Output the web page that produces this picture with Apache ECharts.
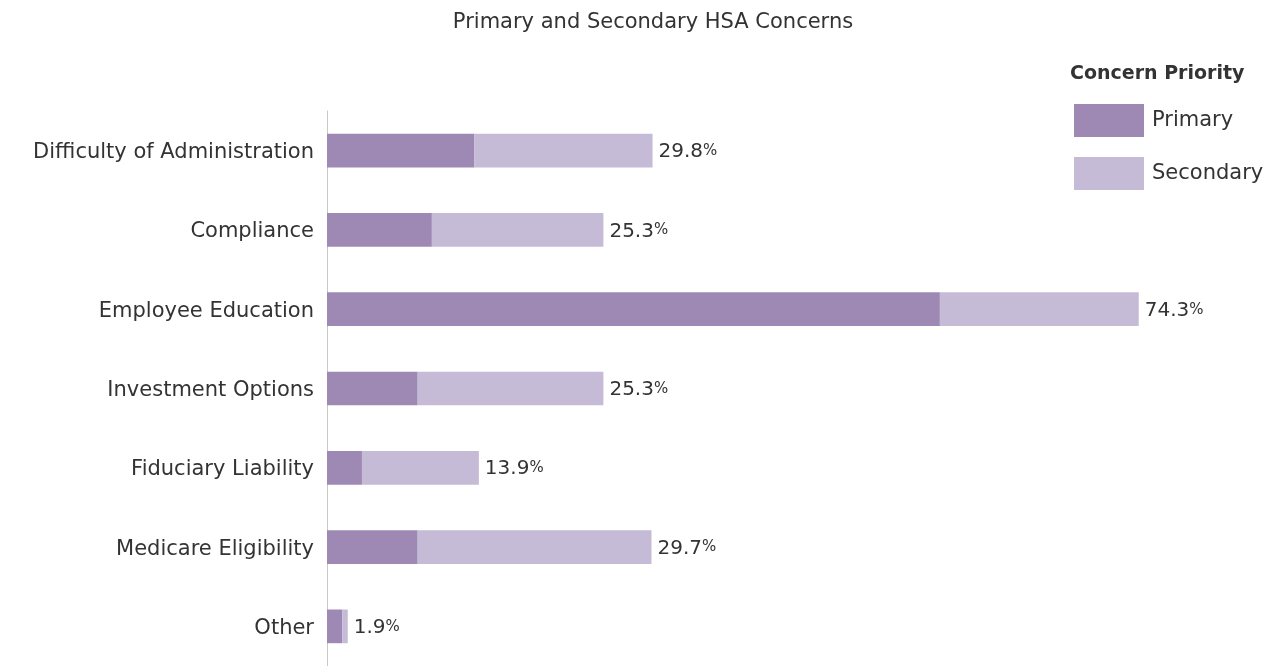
<!DOCTYPE html>
<html>
<head>
<meta charset="utf-8">
<script src="https://cdn.jsdelivr.net/npm/echarts@6/dist/echarts.min.js"></script>
<style>html,body{margin:0;padding:0;background:#fff}#c{width:1278px;height:666px}</style>
</head>
<body>
<div id="c"></div>
<script>
const categories = ["Difficulty of Administration","Compliance","Employee Education","Investment Options","Fiduciary Liability","Medicare Eligibility","Other"];
const primary = [13.5, 9.6, 56.1, 8.3, 3.2, 8.3, 1.4];
const secondary = [16.3, 15.7, 18.2, 17.0, 10.7, 21.4, 0.5];
const totals = [29.8, 25.3, 74.3, 25.3, 13.9, 29.7, 1.9];
const seriesNames = ["Primary", "Secondary"];
const FONT = "'DejaVu Sans', sans-serif";

const chart = echarts.init(document.getElementById('c'));
chart.setOption({
  animation: false,
  textStyle: {fontFamily: FONT},
  title: [{
    text: "Primary and Secondary HSA Concerns",
    left: 648, top: 7, textAlign: 'center',
    textStyle: {fontFamily: FONT, fontSize: 21, fontWeight: 'normal', color: '#333'}
  }, {
    text: "Concern Priority",
    left: 1065, top: 60,
    textStyle: {fontFamily: FONT, fontSize: 19, fontWeight: 'bold', color: '#333'}
  }],
  legend: {
    orient: 'vertical', left: 1074, top: 104, padding: 0,
    itemWidth: 70, itemHeight: 33, itemGap: 20,
    icon: 'rect',
    data: seriesNames,
    textStyle: {fontFamily: FONT, fontSize: 21, color: '#333', padding: [3,0,0,3]}
  },
  grid: {left: 327, top: 111, width: 874, height: 560, containLabel: false},
  xAxis: {type: 'value', min: 0, max: 80, show: false},
  yAxis: {
    type: 'category', data: categories, inverse: true,
    axisLine: {show: true, lineStyle: {color: '#c8c8c8', width: 1}},
    axisTick: {show: false},
    axisLabel: {
      margin: 13,
      formatter: v => '{a|' + v + '}',
      rich: {a: {fontFamily: FONT, fontSize: 21, color: '#333', padding: [4,0,0,0]}}
    }
  },
  series: [{
    name: seriesNames[0], type: 'bar', stack: 't', data: primary,
    barCategoryGap: '57.5%',
    itemStyle: {color: '#9E88B4'}
  }, {
    name: seriesNames[1], type: 'bar', stack: 't', data: secondary,
    barCategoryGap: '57.5%',
    itemStyle: {color: '#C5BBD6'},
    label: {
      show: true, position: 'right', distance: 6,
      formatter: p => '{v|' + totals[p.dataIndex].toFixed(1) + '}{p|%}',
      rich: {
        v: {fontFamily: FONT, fontSize: 20, color: '#333', padding: [3,0,0,0]},
        p: {fontFamily: FONT, fontSize: 15, color: '#333', padding: [1,0,0,0]}
      }
    }
  }]
});
</script>
</body>
</html>
